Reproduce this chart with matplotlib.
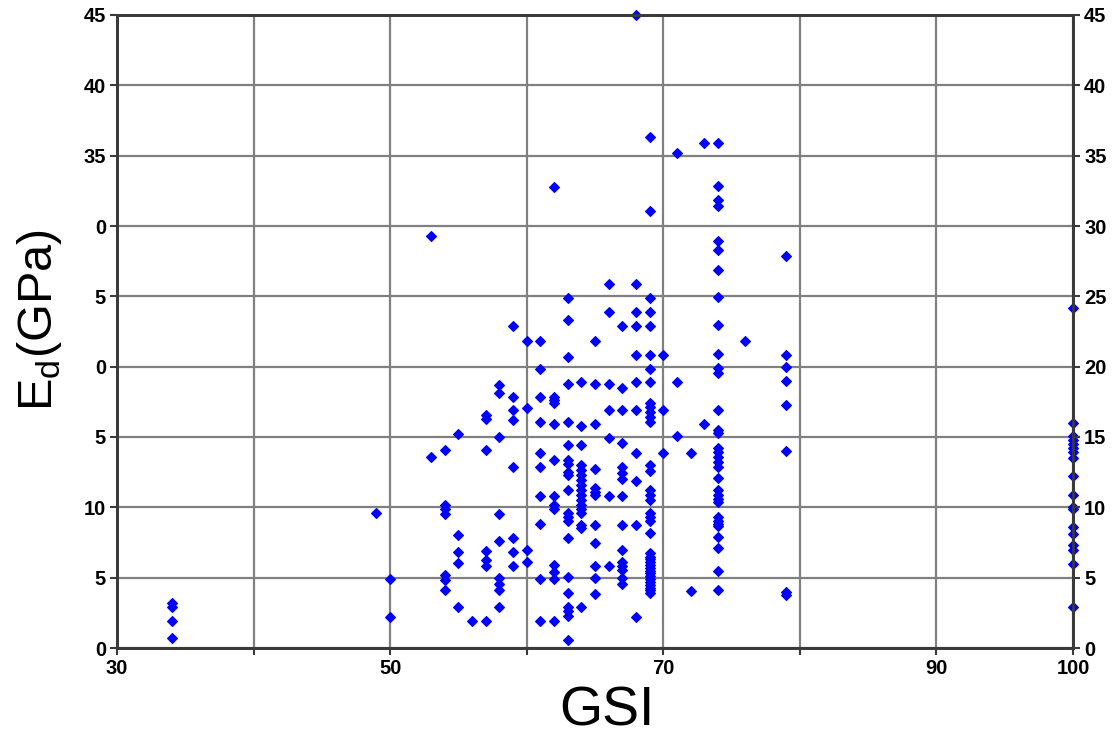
import matplotlib
matplotlib.use("Agg")
import matplotlib.pyplot as plt

# E_d (GPa) values, grouped by GSI column
e34 = [3.2, 2.9, 1.9, 0.7]
e49 = [9.6]
e50 = [4.9, 2.2]
e53 = [29.3, 13.6]
e54 = [14.1, 10.15, 9.9, 9.5, 5.2, 4.85, 4.1]
e55 = [15.2, 8.0, 6.8, 6.05, 2.9]
e56 = [1.9]
e57 = [16.55, 16.3, 14.1, 6.9, 6.25, 5.85, 1.9]
e58 = [18.7, 18.15, 15.0, 9.5, 7.6, 5.0, 4.55, 4.15, 2.9]
e59 = [22.9, 17.85, 16.9, 16.2, 12.9, 7.8, 6.85, 5.85]
e60 = [21.8, 17.05, 7.0, 6.1]
e61 = [21.8, 19.8, 17.85, 16.05, 13.85, 12.9, 10.8, 8.8, 4.9, 1.9]
e62 = [32.8, 17.85, 17.6, 17.4, 15.9, 13.4, 10.8, 10.2, 9.9, 5.9, 5.4, 4.9, 1.9]
e63 = [24.9, 23.3, 20.7, 18.75, 16.05, 14.4, 13.35, 13.1, 12.5, 12.3, 11.2,
       9.6, 9.3, 9.0, 7.8, 5.05, 3.9, 2.9, 2.6, 2.3, 0.6]
e64 = [18.9, 15.8, 14.4, 13.0, 12.65, 12.3, 11.95, 11.6, 11.25, 10.9, 10.55,
       10.2, 9.85, 9.6, 8.75, 8.5, 2.9]
e65 = [21.8, 18.8, 15.9, 12.75, 11.4, 11.1, 10.85, 8.75, 7.45, 5.85, 4.95, 3.85]
e66 = [25.9, 23.9, 18.8, 16.9, 14.9, 10.8, 5.85]
e67 = [22.9, 18.45, 16.9, 14.6, 12.9, 12.45, 12.0, 10.8, 8.75, 7.0, 6.1, 5.85,
       5.55, 4.95, 4.55]
e68 = [45.0, 25.9, 23.9, 22.9, 20.8, 18.9, 16.9, 13.85, 11.9, 8.75, 2.2]
e69 = [36.3, 31.1, 24.9, 23.9, 22.9, 20.8, 19.85, 18.9, 17.4, 17.1, 16.8, 16.45,
       16.1, 13.0, 12.6, 11.2, 10.9, 10.5, 9.6, 9.3, 9.0, 8.15, 6.75, 6.5, 6.3,
       6.1, 5.9, 5.7, 5.5, 5.3, 5.1, 4.9, 4.7, 4.5, 4.3, 4.1, 3.9]
e70 = [20.8, 16.9, 13.85]
e71 = [35.2, 18.9, 15.05]
e72 = [13.85, 4.05]
e73 = [35.9, 15.9]
e74 = [35.9, 32.85, 31.85, 31.4, 28.9, 28.3, 26.9, 24.95, 22.95, 20.9, 19.9,
       19.55, 16.9, 15.5, 15.25, 14.25, 13.95, 13.6, 13.25, 12.9, 12.1, 11.2,
       10.85, 10.6, 10.35, 9.3, 9.05, 8.8, 8.65, 7.9, 7.1, 5.5, 4.15]
e76 = [21.8]
e79 = [27.9, 20.8, 19.95, 19.0, 17.25, 14.0, 3.95, 3.8]
e100 = [24.2, 16.0, 15.05, 14.8, 14.5, 14.2, 13.9, 13.5, 12.2, 10.9, 10.05,
        9.85, 8.6, 8.1, 7.35, 6.95, 6.0, 2.9]

columns = {34: e34, 49: e49, 50: e50, 53: e53, 54: e54, 55: e55, 56: e56,
           57: e57, 58: e58, 59: e59, 60: e60, 61: e61, 62: e62, 63: e63,
           64: e64, 65: e65, 66: e66, 67: e67, 68: e68, 69: e69, 70: e70,
           71: e71, 72: e72, 73: e73, 74: e74, 76: e76, 79: e79, 100: e100}

x_ticks = [30, 40, 50, 60, 70, 80, 90, 100]
x_labels = ["30", "", "50", "", "70", "", "90", "100"]
y_ticks = [0, 5, 10, 15, 20, 25, 30, 35, 40, 45]
y_labels_left = ["0", "5", "10", "5", "0", "5", "0", "35", "40", "45"]
y_labels_right = ["0", "5", "10", "15", "20", "25", "30", "35", "40", "45"]

gsi, ed = [], []
for g, vals in columns.items():
    for v in vals:
        gsi.append(g)
        ed.append(v)

plt.rcParams['font.family'] = ['Liberation Sans', 'DejaVu Sans']

fig = plt.figure(figsize=(11.13, 7.38), dpi=100)
ax = fig.add_axes([117 / 1113, 1 - 648 / 738, 956 / 1113, 633 / 738])

ax.plot(gsi, ed, linestyle='none', marker='D', ms=5, color='#0000FF',
        mec='#0000FF', mew=0.8, clip_on=False, zorder=5)

ax.set_xlim(30, 100)
ax.set_ylim(0, 45)
ax.set_xticks(x_ticks)
ax.set_xticklabels(x_labels)
ax.set_yticks(y_ticks)
ax.set_yticklabels(y_labels_left)
ax.grid(True, color='#808080', linewidth=1.6)
ax.set_axisbelow(True)

ax2 = ax.twinx()
ax2.set_ylim(0, 45)
ax2.set_yticks(y_ticks)
ax2.set_yticklabels(y_labels_right)

for a in (ax, ax2):
    for s in a.spines.values():
        s.set_color('#3a3a3a')
        s.set_linewidth(2)
    a.tick_params(direction='out', length=5, width=1.5, color='#3a3a3a',
                  labelsize=14.5, pad=3)
    for lab in a.get_xticklabels() + a.get_yticklabels():
        lab.set_fontweight('bold')

fig.text(607 / 1113, 1 - 712 / 738, "GSI", fontsize=40, ha='center', va='center')
fig.text(40 / 1113, 1 - 320 / 738, r"E$_\mathregular{d}$(GPa)", fontsize=35,
         rotation=90, ha='center', va='center')

fig.savefig("out.png", dpi=100)
